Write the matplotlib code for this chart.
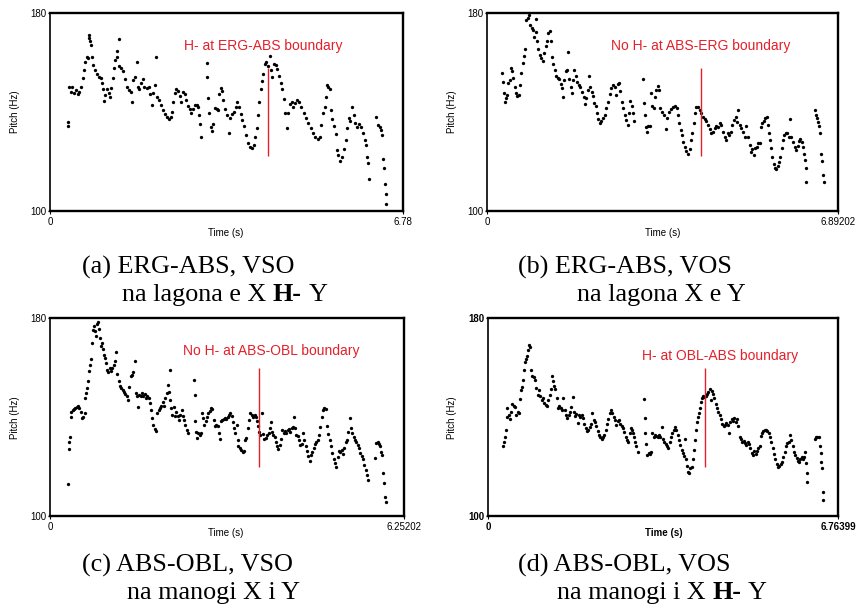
import matplotlib
matplotlib.use('Agg')
import matplotlib.pyplot as plt
from matplotlib.text import Annotation

SANS = ['Liberation Sans', 'DejaVu Sans']
SERIF = ['Liberation Serif', 'DejaVu Serif']
RED = '#e4202a'

# ---------------- data (time s, pitch Hz) ----------------
track_a = [
    (0.339, 136.1), (0.345, 134.3), (0.365, 150.3), (0.397, 148.2), (0.429, 150.0), (0.461, 147.6),
    (0.499, 148.9), (0.531, 147.3), (0.563, 148.2), (0.595, 150.0), (0.627, 153.6), (0.652, 157.0),
    (0.678, 160.4), (0.704, 162.2), (0.729, 161.8), (0.742, 171.2), (0.755, 169.9), (0.768, 168.5),
    (0.787, 167.2), (0.812, 162.4), (0.832, 159.1), (0.864, 156.8), (0.895, 155.4), (0.934, 154.3),
    (0.972, 153.6), (0.998, 151.6), (1.023, 149.2), (1.036, 144.6), (1.062, 146.9), (1.087, 149.2),
    (1.126, 147.6), (1.151, 145.9), (1.177, 149.6), (1.202, 153.6), (1.228, 157.7), (1.254, 161.1),
    (1.279, 164.5), (1.318, 169.5), (1.292, 162.2), (1.330, 158.6), (1.369, 157.7), (1.407, 156.4),
    (1.439, 153.2), (1.471, 150.0), (1.509, 148.9), (1.548, 148.2), (1.580, 144.2), (1.599, 153.0),
    (1.631, 154.3), (1.663, 160.4), (1.682, 150.0), (1.714, 149.2), (1.753, 151.9), (1.785, 153.2),
    (1.810, 150.0), (1.855, 149.6), (1.893, 150.0), (1.925, 147.3), (1.951, 142.8), (1.983, 147.8),
    (2.008, 150.9), (2.028, 162.4), (2.047, 146.2), (2.085, 144.9), (2.124, 142.8), (2.162, 140.8),
    (2.200, 139.1), (2.239, 137.8), (2.277, 137.0), (2.315, 137.8), (2.341, 140.1), (2.367, 144.2),
    (2.392, 147.8), (2.424, 149.2), (2.456, 148.6), (2.488, 146.5), (2.520, 144.2), (2.552, 148.2),
    (2.584, 147.3), (2.616, 144.9), (2.648, 142.4), (2.680, 141.4), (2.712, 139.7), (2.744, 141.1),
    (2.776, 142.8), (2.814, 143.0), (2.846, 141.9), (2.866, 138.8), (2.885, 135.1), (2.897, 130.0),
    (3.006, 159.7), (3.019, 154.3), (3.032, 145.5), (3.057, 139.5), (3.083, 134.1), (3.108, 132.4),
    (3.134, 135.1), (3.166, 141.5), (3.198, 141.1), (3.230, 140.8), (3.249, 147.3), (3.275, 149.6),
    (3.300, 148.6), (3.326, 144.9), (3.358, 141.1), (3.396, 138.8), (3.435, 131.6), (3.460, 137.4),
    (3.492, 139.2), (3.531, 140.1), (3.569, 142.2), (3.595, 144.2), (3.627, 141.9), (3.659, 139.2),
    (3.697, 136.8), (3.735, 134.3), (3.774, 130.7), (3.812, 127.6), (3.850, 125.7), (3.889, 125.3),
    (3.921, 126.6), (3.946, 129.7), (3.972, 133.4), (3.998, 138.8), (4.023, 144.2), (4.049, 149.2),
    (4.074, 152.7), (4.100, 155.4), (4.126, 159.5), (4.158, 160.4), (4.190, 158.4), (4.234, 162.7),
    (4.253, 157.0), (4.273, 154.1), (4.298, 159.5), (4.337, 159.1), (4.369, 157.3), (4.401, 154.6),
    (4.433, 151.9), (4.465, 149.2), (4.490, 145.1), (4.516, 139.7), (4.554, 133.4), (4.573, 139.5),
    (4.605, 143.2), (4.644, 144.2), (4.676, 142.2), (4.714, 143.8), (4.752, 144.9), (4.791, 144.2),
    (4.829, 141.9), (4.874, 139.5), (4.918, 137.4), (4.963, 135.4), (5.008, 133.4), (5.053, 131.6),
    (5.098, 130.0), (5.143, 128.9), (5.181, 129.7), (5.213, 134.7), (5.245, 139.5), (5.277, 141.9),
    (5.309, 146.2), (5.322, 150.9), (5.347, 150.3), (5.373, 149.2), (5.392, 140.8), (5.418, 137.0),
    (5.450, 134.3), (5.488, 131.1), (5.513, 124.6), (5.539, 122.6), (5.571, 120.3), (5.603, 121.9),
    (5.641, 124.9), (5.680, 128.6), (5.712, 133.4), (5.744, 137.4), (5.769, 136.5), (5.808, 142.2),
    (5.833, 138.8), (5.865, 135.7), (5.897, 134.1), (5.936, 135.1), (5.974, 133.8), (6.012, 131.6),
    (6.051, 128.6), (6.076, 126.6), (6.096, 121.9), (6.115, 119.2), (6.128, 113.1), (6.268, 138.1),
    (6.300, 134.7), (6.332, 134.1), (6.364, 132.7), (6.383, 130.7), (6.396, 121.2), (6.415, 117.2),
    (6.434, 111.1), (6.447, 107.0), (6.460, 102.7),
]

track_b = [
    (0.301, 155.7), (0.314, 152.3), (0.327, 147.6), (0.347, 144.2), (0.367, 145.5), (0.393, 146.9),
    (0.419, 151.6), (0.445, 153.0), (0.465, 157.7), (0.491, 156.4), (0.517, 153.6), (0.543, 150.3),
    (0.569, 147.8), (0.596, 146.5), (0.622, 146.9), (0.648, 150.9), (0.674, 155.9), (0.700, 159.7),
    (0.727, 162.7), (0.753, 165.4), (0.772, 177.0), (0.798, 178.0), (0.825, 179.3), (0.851, 175.3),
    (0.877, 173.9), (0.903, 173.0), (0.929, 170.5), (0.956, 177.6), (0.969, 172.2), (0.988, 168.5),
    (1.008, 165.4), (1.034, 163.1), (1.067, 161.8), (1.100, 160.8), (1.126, 163.8), (1.152, 166.5),
    (1.178, 168.5), (1.204, 171.9), (1.237, 172.6), (1.263, 168.5), (1.276, 162.2), (1.302, 159.5),
    (1.329, 157.0), (1.355, 154.6), (1.388, 153.6), (1.420, 153.2), (1.446, 151.4), (1.473, 149.6),
    (1.499, 145.9), (1.518, 153.0), (1.545, 156.4), (1.571, 157.0), (1.597, 164.1), (1.617, 153.2),
    (1.643, 150.0), (1.669, 147.8), (1.689, 153.0), (1.715, 156.8), (1.741, 154.6), (1.767, 152.3),
    (1.800, 150.9), (1.833, 150.0), (1.865, 148.2), (1.898, 145.9), (1.924, 143.2), (1.950, 145.5),
    (1.977, 148.9), (2.003, 154.6), (2.029, 150.0), (2.055, 148.2), (2.081, 146.5), (2.108, 143.8),
    (2.134, 142.4), (2.160, 139.7), (2.186, 137.0), (2.212, 135.7), (2.245, 136.5), (2.278, 137.4),
    (2.310, 138.8), (2.343, 141.5), (2.376, 144.2), (2.409, 147.3), (2.441, 149.6), (2.474, 150.9),
    (2.507, 150.3), (2.539, 146.9), (2.572, 151.4), (2.592, 151.9), (2.618, 148.6), (2.644, 144.2),
    (2.670, 141.5), (2.703, 138.8), (2.736, 136.8), (2.762, 134.7), (2.788, 139.5), (2.814, 144.6),
    (2.841, 142.4), (2.867, 139.5), (2.893, 136.5), (3.063, 153.2), (3.076, 143.5), (3.096, 138.8),
    (3.115, 134.1), (3.135, 132.0), (3.161, 134.3), (3.194, 134.3), (3.220, 147.6), (3.246, 142.4),
    (3.272, 141.5), (3.299, 146.2), (3.325, 148.9), (3.351, 150.5), (3.377, 148.9), (3.403, 141.5),
    (3.436, 140.1), (3.469, 138.8), (3.508, 133.0), (3.534, 137.4), (3.573, 140.1), (3.613, 141.1),
    (3.652, 141.9), (3.691, 142.4), (3.724, 141.5), (3.750, 138.8), (3.776, 135.7), (3.803, 132.7),
    (3.829, 130.7), (3.855, 128.0), (3.881, 125.9), (3.914, 124.3), (3.947, 123.2), (3.979, 124.9),
    (4.006, 128.6), (4.032, 131.4), (4.058, 135.4), (4.084, 139.7), (4.110, 142.2), (4.143, 141.9),
    (4.176, 140.8), (4.208, 139.5), (4.241, 138.1), (4.274, 137.0), (4.307, 136.5), (4.339, 134.7),
    (4.372, 133.0), (4.405, 131.4), (4.438, 132.0), (4.470, 133.4), (4.503, 134.3), (4.536, 134.1),
    (4.568, 135.4), (4.601, 134.7), (4.634, 132.0), (4.666, 130.0), (4.699, 128.6), (4.726, 131.6),
    (4.752, 130.7), (4.784, 132.0), (4.817, 134.7), (4.850, 136.8), (4.883, 137.8), (4.909, 136.0),
    (4.935, 140.8), (4.961, 134.7), (4.994, 133.4), (5.027, 132.0), (5.059, 130.0), (5.092, 134.3),
    (5.125, 129.7), (5.157, 126.6), (5.184, 123.9), (5.210, 124.9), (5.236, 122.6), (5.269, 125.3),
    (5.301, 125.9), (5.328, 127.3), (5.354, 127.6), (5.380, 134.1), (5.406, 135.4), (5.432, 136.5),
    (5.465, 137.4), (5.498, 137.8), (5.518, 134.7), (5.537, 131.6), (5.557, 128.6), (5.577, 125.3),
    (5.603, 121.9), (5.629, 118.9), (5.655, 117.2), (5.681, 116.8), (5.707, 118.1), (5.734, 119.9),
    (5.760, 121.9), (5.786, 125.3), (5.812, 128.6), (5.838, 130.7), (5.865, 131.6), (5.897, 131.4),
    (5.930, 130.0), (5.950, 137.0), (5.976, 129.7), (6.008, 128.0), (6.041, 125.9), (6.074, 124.6),
    (6.100, 126.2), (6.126, 128.4), (6.152, 128.9), (6.178, 128.0), (6.204, 125.9), (6.224, 123.2),
    (6.244, 120.5), (6.257, 117.2), (6.270, 111.8), (6.434, 140.8), (6.453, 138.8), (6.479, 137.4),
    (6.499, 136.0), (6.519, 134.3), (6.532, 131.4), (6.551, 123.2), (6.571, 120.3), (6.591, 114.5),
    (6.610, 111.8),
]

track_c = [
    (0.318, 112.9), (0.329, 127.0), (0.341, 129.7), (0.353, 131.8), (0.365, 142.2), (0.376, 139.9),
    (0.400, 142.9), (0.424, 143.2), (0.447, 143.6), (0.471, 144.2), (0.494, 144.5), (0.518, 143.6),
    (0.541, 142.2), (0.565, 139.5), (0.588, 140.2), (0.612, 141.6), (0.624, 147.6), (0.641, 149.6),
    (0.659, 151.7), (0.676, 154.4), (0.694, 158.4), (0.712, 161.1), (0.729, 163.4), (0.747, 169.9),
    (0.765, 175.3), (0.782, 176.6), (0.800, 174.6), (0.818, 172.6), (0.835, 177.7), (0.853, 178.2),
    (0.871, 175.5), (0.888, 171.9), (0.906, 168.5), (0.923, 169.9), (0.941, 167.5), (0.959, 165.2),
    (0.976, 163.8), (0.994, 161.8), (1.012, 159.1), (1.029, 158.0), (1.053, 159.8), (1.076, 158.4),
    (1.100, 159.8), (1.123, 161.1), (1.147, 162.5), (1.170, 166.1), (1.188, 157.5), (1.212, 154.4),
    (1.235, 152.6), (1.259, 151.7), (1.282, 151.0), (1.306, 150.3), (1.329, 149.4), (1.353, 148.3),
    (1.376, 146.9), (1.400, 152.1), (1.423, 156.4), (1.447, 157.1), (1.470, 158.0), (1.494, 162.5),
    (1.512, 149.6), (1.535, 148.3), (1.553, 144.2), (1.576, 149.0), (1.600, 148.3), (1.623, 149.6),
    (1.647, 148.3), (1.670, 149.4), (1.694, 147.6), (1.717, 148.3), (1.741, 147.6), (1.765, 145.6),
    (1.788, 142.9), (1.806, 139.5), (1.823, 136.8), (1.847, 135.1), (1.870, 134.5), (1.894, 141.8),
    (1.918, 142.9), (1.941, 143.6), (1.965, 144.5), (1.988, 145.9), (2.012, 144.5), (2.035, 147.6),
    (2.059, 149.6), (2.076, 153.0), (2.094, 150.3), (2.112, 146.9), (2.123, 159.1), (2.135, 143.6),
    (2.159, 140.9), (2.182, 144.2), (2.206, 140.5), (2.229, 142.2), (2.253, 140.5), (2.276, 138.9),
    (2.300, 140.9), (2.323, 142.9), (2.341, 140.5), (2.365, 138.6), (2.388, 136.8), (2.412, 134.8),
    (2.435, 133.5), (2.541, 155.0), (2.553, 149.0), (2.565, 138.2), (2.582, 134.1), (2.600, 131.4),
    (2.618, 133.7), (2.641, 132.8), (2.665, 133.5), (2.682, 141.6), (2.700, 139.5), (2.723, 136.8),
    (2.747, 138.2), (2.771, 140.2), (2.794, 141.6), (2.818, 142.6), (2.841, 143.6), (2.865, 143.2),
    (2.888, 138.9), (2.912, 136.4), (2.935, 136.8), (2.959, 136.2), (2.976, 133.5), (3.000, 131.0),
    (3.018, 138.2), (3.041, 138.9), (3.065, 139.1), (3.088, 139.5), (3.112, 139.1), (3.135, 139.9),
    (3.159, 140.9), (3.182, 141.6), (3.206, 140.5), (3.229, 137.8), (3.253, 135.5), (3.276, 133.5),
    (3.294, 136.8), (3.312, 130.8), (3.329, 128.1), (3.353, 127.4), (3.376, 126.7), (3.400, 126.0),
    (3.423, 126.4), (3.447, 130.8), (3.470, 131.4), (3.494, 135.5), (3.518, 138.9), (3.541, 141.6),
    (3.565, 140.9), (3.588, 140.2), (3.612, 140.9), (3.635, 140.2), (3.653, 138.2), (3.670, 136.4),
    (3.688, 134.1), (3.706, 132.8), (3.741, 141.6), (3.765, 133.2), (3.788, 131.0), (3.812, 131.4),
    (3.835, 132.8), (3.859, 133.7), (3.882, 135.5), (3.900, 137.8), (3.918, 134.1), (3.941, 132.8),
    (3.965, 131.8), (3.988, 130.1), (4.012, 128.3), (4.035, 127.0), (4.059, 128.7), (4.082, 131.0),
    (4.106, 134.8), (4.129, 133.7), (4.153, 134.5), (4.176, 133.5), (4.200, 134.8), (4.223, 135.1),
    (4.247, 134.1), (4.270, 135.5), (4.294, 135.9), (4.306, 139.9), (4.329, 135.5), (4.353, 132.8),
    (4.376, 132.4), (4.400, 130.8), (4.423, 128.7), (4.447, 129.1), (4.470, 133.5), (4.494, 130.8),
    (4.517, 128.3), (4.541, 126.4), (4.565, 124.3), (4.588, 122.4), (4.612, 124.7), (4.635, 126.0),
    (4.659, 127.4), (4.682, 129.1), (4.706, 130.1), (4.729, 130.8), (4.753, 132.8), (4.776, 135.9),
    (4.800, 139.9), (4.823, 142.9), (4.847, 143.6), (4.871, 143.2), (4.894, 136.2), (4.918, 133.2),
    (4.941, 130.8), (4.965, 128.3), (4.988, 125.4), (5.012, 122.9), (5.035, 121.3), (5.059, 120.0),
    (5.082, 124.0), (5.106, 126.4), (5.129, 126.0), (5.153, 126.7), (5.176, 125.1), (5.200, 127.4),
    (5.223, 130.1), (5.247, 130.8), (5.270, 134.1), (5.294, 139.5), (5.317, 135.5), (5.341, 133.5),
    (5.365, 132.1), (5.388, 130.8), (5.412, 130.1), (5.435, 128.7), (5.459, 127.4), (5.482, 125.6),
    (5.506, 124.3), (5.529, 122.9), (5.553, 120.6), (5.576, 118.6), (5.600, 116.6), (5.617, 114.6),
    (5.747, 123.3), (5.765, 129.4), (5.788, 129.7), (5.812, 129.1), (5.835, 128.1), (5.853, 126.0),
    (5.871, 124.7), (5.882, 117.3), (5.900, 113.2), (5.918, 107.8), (5.929, 105.8),
]

track_d = [
    (0.290, 128.1), (0.309, 130.1), (0.329, 131.8), (0.348, 134.8), (0.361, 143.6), (0.374, 139.9),
    (0.399, 140.9), (0.425, 139.1), (0.451, 142.2), (0.470, 145.3), (0.496, 144.5), (0.522, 144.0),
    (0.548, 140.9), (0.573, 142.2), (0.599, 141.6), (0.625, 147.2), (0.644, 151.0), (0.664, 152.1),
    (0.683, 155.0), (0.702, 158.8), (0.722, 162.1), (0.741, 163.4), (0.760, 164.8), (0.779, 167.2),
    (0.799, 169.2), (0.818, 168.3), (0.837, 159.1), (0.857, 156.7), (0.883, 156.1), (0.908, 155.0),
    (0.934, 151.7), (0.960, 149.0), (0.986, 151.0), (1.011, 148.3), (1.037, 146.9), (1.063, 147.6),
    (1.089, 145.6), (1.114, 144.9), (1.140, 144.5), (1.166, 146.9), (1.192, 149.0), (1.218, 151.3),
    (1.237, 156.4), (1.256, 154.4), (1.275, 152.6), (1.301, 151.3), (1.327, 147.6), (1.353, 143.6),
    (1.379, 144.5), (1.404, 143.6), (1.430, 142.9), (1.456, 147.6), (1.482, 142.9), (1.507, 140.9),
    (1.533, 139.5), (1.559, 140.9), (1.585, 142.2), (1.610, 144.0), (1.636, 148.0), (1.655, 142.2),
    (1.681, 140.5), (1.707, 141.3), (1.733, 137.5), (1.759, 140.9), (1.784, 139.9), (1.810, 140.9),
    (1.836, 139.5), (1.862, 137.2), (1.887, 135.5), (1.913, 134.5), (1.939, 134.8), (1.965, 135.9),
    (1.991, 137.2), (2.016, 141.6), (2.042, 138.9), (2.068, 137.8), (2.094, 136.2), (2.119, 134.5),
    (2.145, 132.8), (2.171, 131.8), (2.197, 131.0), (2.222, 131.8), (2.248, 132.8), (2.274, 134.8),
    (2.300, 137.2), (2.326, 139.1), (2.351, 141.6), (2.377, 142.9), (2.403, 141.8), (2.429, 140.2),
    (2.454, 138.6), (2.480, 136.8), (2.506, 138.2), (2.532, 138.9), (2.557, 137.2), (2.583, 136.4),
    (2.609, 135.5), (2.635, 134.1), (2.660, 132.1), (2.686, 130.8), (2.712, 130.1), (2.738, 133.5),
    (2.764, 135.5), (2.789, 134.8), (2.809, 133.5), (2.828, 132.1), (2.847, 130.1), (2.867, 128.1),
    (2.892, 126.0), (3.015, 147.2), (3.028, 139.5), (3.041, 133.5), (3.060, 129.1), (3.079, 124.7),
    (3.105, 125.6), (3.131, 125.1), (3.157, 126.0), (3.176, 133.5), (3.202, 132.1), (3.228, 132.8),
    (3.253, 132.4), (3.279, 132.1), (3.305, 132.8), (3.331, 131.8), (3.363, 135.9), (3.382, 131.0),
    (3.408, 130.1), (3.434, 129.1), (3.459, 128.1), (3.485, 127.4), (3.511, 129.7), (3.537, 131.8),
    (3.562, 133.5), (3.588, 134.8), (3.614, 135.9), (3.640, 134.8), (3.666, 132.8), (3.691, 130.8),
    (3.717, 128.7), (3.743, 126.7), (3.769, 125.6), (3.794, 124.3), (3.814, 131.0), (3.833, 122.9),
    (3.852, 120.2), (3.872, 117.9), (3.891, 117.3), (3.910, 119.3), (3.936, 120.0), (3.956, 122.9),
    (3.975, 126.7), (3.994, 130.8), (4.013, 134.8), (4.033, 137.8), (4.052, 139.9), (4.071, 141.6),
    (4.091, 143.6), (4.110, 145.9), (4.129, 147.6), (4.155, 148.3), (4.181, 148.0), (4.207, 148.6),
    (4.233, 149.4), (4.258, 150.3), (4.284, 151.3), (4.303, 146.7), (4.323, 150.7), (4.348, 149.4),
    (4.374, 147.6), (4.400, 145.3), (4.426, 143.6), (4.451, 142.2), (4.477, 140.9), (4.503, 139.1),
    (4.529, 137.2), (4.555, 136.2), (4.580, 136.8), (4.606, 137.5), (4.632, 136.8), (4.658, 133.5),
    (4.683, 137.8), (4.709, 139.1), (4.735, 138.2), (4.761, 139.5), (4.786, 137.8), (4.812, 139.1),
    (4.838, 136.2), (4.864, 132.1), (4.889, 131.0), (4.915, 130.1), (4.941, 130.5), (4.967, 129.4),
    (4.992, 128.7), (5.018, 129.7), (5.044, 129.1), (5.070, 127.4), (5.096, 125.6), (5.121, 124.7),
    (5.147, 126.4), (5.173, 125.1), (5.199, 126.4), (5.224, 127.4), (5.250, 128.1), (5.270, 132.4),
    (5.295, 133.5), (5.321, 134.4), (5.347, 134.8), (5.373, 134.8), (5.398, 134.5), (5.424, 133.7),
    (5.450, 131.8), (5.476, 129.7), (5.501, 127.4), (5.527, 125.1), (5.553, 122.9), (5.579, 121.0),
    (5.605, 120.0), (5.630, 120.2), (5.656, 121.0), (5.682, 122.0), (5.708, 124.0), (5.733, 126.0),
    (5.759, 128.1), (5.785, 129.4), (5.811, 130.1), (5.837, 132.8), (5.862, 130.8), (5.888, 128.1),
    (5.914, 126.0), (5.940, 124.7), (5.966, 123.3), (5.991, 122.4), (6.017, 122.0), (6.036, 122.9),
    (6.062, 124.0), (6.088, 122.9), (6.114, 124.0), (6.133, 126.0), (6.146, 121.3), (6.159, 117.3),
    (6.172, 113.9), (6.313, 131.0), (6.339, 131.8), (6.365, 132.1), (6.391, 131.8), (6.410, 128.1),
    (6.429, 125.4), (6.442, 122.0), (6.455, 119.3), (6.468, 109.8), (6.481, 106.5),
]

x_max = [6.78, 6.89202, 6.25202, 6.76399]
x_max_labels = ['6.78', '6.89202', '6.25202', '6.76399']
y_range = [100, 180]

boundary_t = [4.19, 4.21, 3.69, 4.19]
boundary_lo = [122.3, 122.3, 120.0, 120.0]
boundary_hi = [157.7, 157.7, 159.8, 159.8]

notes = ['H- at ERG-ABS boundary', 'No H- at ABS-ERG boundary',
         'No H- at ABS-OBL boundary', 'H- at OBL-ABS boundary']
note_t = [4.10, 4.20, 3.90, 4.49]
note_f = [166.5, 166.5, 166.5, 164.5]

caption_1 = ['(a) ERG-ABS, VSO', '(b) ERG-ABS, VOS', '(c) ABS-OBL, VSO', '(d) ABS-OBL, VOS']
caption_2 = [
    [('na lagona e X', 'normal'), ('H-', 'bold'), ('Y', 'normal')],
    [('na lagona X e Y', 'normal')],
    [('na manogi X i Y', 'normal')],
    [('na manogi i X', 'normal'), ('H-', 'bold'), ('Y', 'normal')],
]
bold_axes = [False, False, False, True]

# ---------------- layout (pixels of an 857x615 figure) ----------------
W, H = 857, 615
axes_px = [(50, 13, 403, 211), (487, 13, 838, 211), (50, 318, 404, 516), (488, 318, 838, 516)]
time_lab_px = [(226, 233), (663, 233), (226, 533), (664, 533)]
pitch_lab_px = [(15, 112), (452, 112), (15, 418), (452, 418)]
cap1_px = [(82, 267), (518, 267), (82, 565), (518, 565)]
cap2_px = [(122, 295), (577, 295), (127, 593), (557, 593)]
CAP_SIZE = 18.8

fig = plt.figure(figsize=(W / 100, H / 100), dpi=100)
tracks = [track_a, track_b, track_c, track_d]


def fx(x):
    return x / W


def fy(y):
    return 1 - y / H


for i, track in enumerate(tracks):
    l, t, r, b = axes_px[i]
    ax = fig.add_axes([fx(l), fy(b), (r - l) / W, (b - t) / H])
    tt = [p[0] for p in track]
    ff = [p[1] for p in track]
    ax.plot(tt, ff, 'o', ms=2.4, mew=0, color='black')
    ax.vlines(boundary_t[i], boundary_lo[i], boundary_hi[i], color=RED, lw=1.0)
    ax.text(note_t[i], note_f[i], notes[i], color=RED, fontsize=10, family=SANS,
            ha='center', va='center')
    ax.set_xlim(0, x_max[i])
    ax.set_ylim(*y_range)
    ax.set_xticks([0, x_max[i]])
    ax.set_xticklabels(['0', x_max_labels[i]])
    ax.set_yticks(y_range)
    ax.set_yticklabels([str(v) for v in y_range])
    wt = 'bold' if bold_axes[i] else 'normal'
    for lab in ax.get_xticklabels() + ax.get_yticklabels():
        lab.set_family(SANS)
        lab.set_fontsize(7)
        lab.set_fontweight(wt)
    ax.tick_params(axis='x', length=2, width=0.8, pad=2.5, direction='out')
    ax.tick_params(axis='y', length=1.5, width=0.8, pad=0.8, direction='out')
    for side, sp in ax.spines.items():
        sp.set_linewidth(1.2 if side == 'left' else 1.7)
        sp.set_color('black')
    tx, ty = time_lab_px[i]
    fig.text(fx(tx), fy(ty), 'Time (s)', fontsize=7, family=SANS, fontweight=wt,
             ha='center', va='center')
    px_, py_ = pitch_lab_px[i]
    fig.text(fx(px_), fy(py_), 'Pitch (Hz)', fontsize=7, family=SANS,
             ha='center', va='center', rotation=90)

    # captions
    cx, cy = cap1_px[i]
    fig.text(fx(cx), fy(cy), caption_1[i], fontsize=CAP_SIZE, family=SERIF,
             ha='left', va='center')
    cx, cy = cap2_px[i]
    parts = caption_2[i]
    anchor = fig.text(fx(cx), fy(cy), parts[0][0], fontsize=CAP_SIZE, family=SERIF,
                      fontweight=parts[0][1], ha='left', va='center')
    for text, weight in parts[1:]:
        anchor = fig.add_artist(Annotation(
            text, xy=(1, 0), xycoords=anchor, xytext=(4.7, 0),
            textcoords='offset points', fontsize=CAP_SIZE, family=SERIF,
            fontweight=weight, ha='left', va='bottom'))

fig.savefig('out.png', dpi=100)
